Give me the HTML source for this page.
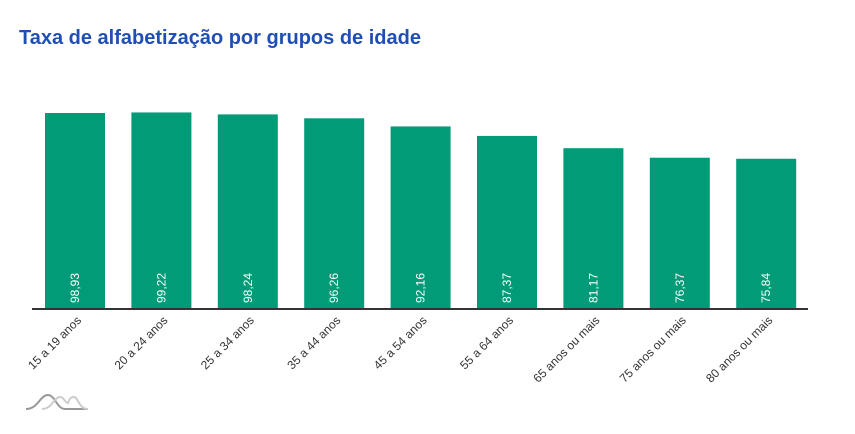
<!DOCTYPE html>
<html><head><meta charset="utf-8"><style>
body{margin:0;background:#fff;width:855px;height:429px;overflow:hidden;font-family:"Liberation Sans",sans-serif}
</style></head><body>
<svg id="chart" width="855" height="429">
<text x="19" y="44" font-size="20" font-weight="bold" fill="#1f4fb4">Taxa de alfabetização por grupos de idade</text>
<g id="bars"></g>
<line x1="32" y1="309" x2="808" y2="309" stroke="#333" stroke-width="2"/>
<g fill="none" stroke-width="2">
<path d="M26 409 C38 409 40 395 48 395 C55 395 57 409 65 409 L88 409" stroke="#999"/>
<path d="M42 409 C52 409 54 397 60 397 C64 397 65 403 68 403 C70 397 72 397 74 397 C78 397 79 409 88 409" stroke="#ccc"/>
</g>
</svg>
<script>
const categories=["15 a 19 anos","20 a 24 anos","25 a 34 anos","35 a 44 anos","45 a 54 anos","55 a 64 anos","65 anos ou mais","75 anos ou mais","80 anos ou mais"];
const values=[98.93,99.22,98.24,96.26,92.16,87.37,81.17,76.37,75.84];
const labels=["98,93","99,22","98,24","96,26","92,16","87,37","81,17","76,37","75,84"];
const ns="http://www.w3.org/2000/svg";
const baseY=309,k=1.981,x0=45,step=86.4,bw=60;
function xs(i){return x0+i*step;}
function ys(v){return baseY-v*k;}
const g=document.getElementById('bars');
values.forEach((v,i)=>{
 const r=document.createElementNS(ns,'rect');
 r.setAttribute('x',xs(i));r.setAttribute('y',ys(v));r.setAttribute('width',bw);r.setAttribute('height',baseY-ys(v));r.setAttribute('fill','#019b77');
 
 
 g.appendChild(r);
 const cx=xs(i)+bw/2;
 const t=document.createElementNS(ns,'text');
 t.setAttribute('transform','translate('+(cx+4)+',288) rotate(-90)');
 t.setAttribute('text-anchor','middle');t.setAttribute('font-size','12');t.setAttribute('fill','#fff');
 t.textContent=labels[i];
 
 
 g.appendChild(t);
 const c=document.createElementNS(ns,'text');
 c.setAttribute('transform','translate('+(cx+7)+',321) rotate(-45)');
 c.setAttribute('text-anchor','end');c.setAttribute('font-size','12');c.setAttribute('fill','#333');
 c.textContent=categories[i];
 
 
 g.appendChild(c);
});
</script>
</body></html>
